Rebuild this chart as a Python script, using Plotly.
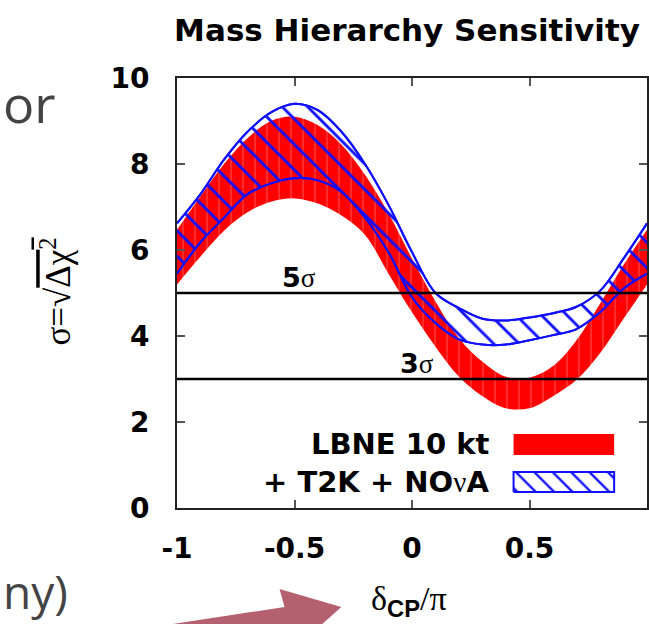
import plotly.graph_objects as go

# ---------------- data ----------------
delta_cp = [-1.0, -0.9, -0.8, -0.7, -0.6, -0.5, -0.4, -0.3, -0.2, -0.1, 0.0,
            0.1, 0.2, 0.3, 0.4, 0.5, 0.6, 0.7, 0.8, 0.9, 1.0]
lbne_upper = [6.47, 7.25, 8.0, 8.6, 9.0, 9.1, 8.9, 8.45, 7.75, 6.85, 5.8,
              4.8, 3.95, 3.4, 3.05, 3.03, 3.3, 3.9, 4.75, 5.65, 6.47]
lbne_lower = [5.2, 5.85, 6.45, 6.88, 7.12, 7.2, 7.08, 6.8, 6.35, 5.45, 4.55,
              3.75, 3.05, 2.6, 2.32, 2.32, 2.6, 2.98, 3.6, 4.4, 5.2]
comb_upper = [6.62, 7.3, 8.1, 8.75, 9.2, 9.4, 9.25, 8.75, 8.0, 7.05, 5.95,
              5.0, 4.65, 4.4, 4.36, 4.43, 4.53, 4.68, 5.05, 5.8, 6.62]
comb_lower = [5.45, 6.18, 6.75, 7.3, 7.55, 7.67, 7.62, 7.35, 6.75, 5.95, 4.9,
              4.3, 3.92, 3.8, 3.8, 3.9, 4.02, 4.16, 4.55, 5.1, 5.45]
sigma_levels = [5, 3]
sigma_labels = ["5", "3"]
sigma_label_x = [-0.48, 0.02]
x_ticks = [-1, -0.5, 0, 0.5, 1]
x_tick_text = ["-1", "-0.5", "0", "0.5", "1"]
y_ticks = [0, 2, 4, 6, 8, 10]
y_tick_text = ["0", "2", "4", "6", "8", "10"]
legend_names = ["LBNE 10 kt", "+ T2K + NO<span style='font-family:Liberation Serif;font-weight:normal'>ν</span>A"]

# ---------------- layout geometry (pixels) ----------------
W, H = 649, 624
L, R, T, B = 177, 649, 78, 508
PW, PH = R - L, B - T


def px(x):
    return (x - L) / PW


def py(y):
    return (B - y) / PH


RED = "#ff0000"
BLUE = "#1010ff"
SANS = "DejaVu Sans"
SERIF = "Liberation Serif"

fig = go.Figure()

# red band
fig.add_trace(go.Scatter(x=delta_cp, y=lbne_lower, mode="lines",
                         line=dict(width=0, shape="spline", smoothing=1.0),
                         hoverinfo="skip", showlegend=False))
fig.add_trace(go.Scatter(x=delta_cp, y=lbne_upper, mode="lines",
                         line=dict(width=0, shape="spline", smoothing=1.0),
                         fill="tonexty", fillcolor=RED,
                         fillpattern=dict(shape="|", fgcolor="white", bgcolor=RED,
                                          fgopacity=0.35, size=12, solidity=0.08),
                         name=legend_names[0], showlegend=False))
# blue hatched band
fig.add_trace(go.Scatter(x=delta_cp, y=comb_lower, mode="lines",
                         line=dict(width=2, color=BLUE, shape="spline", smoothing=1.0),
                         hoverinfo="skip", showlegend=False))
fig.add_trace(go.Scatter(x=delta_cp, y=comb_upper, mode="lines",
                         line=dict(width=2, color=BLUE, shape="spline", smoothing=1.0),
                         fill="tonexty", fillcolor="rgba(0,0,0,0)",
                         fillpattern=dict(shape="\\", fgcolor=BLUE, bgcolor="rgba(0,0,0,0)",
                                          fgopacity=1, size=18, solidity=0.16),
                         name=legend_names[1], showlegend=False))
# redraw blue outlines on top
for ys in (comb_lower, comb_upper):
    fig.add_trace(go.Scatter(x=delta_cp, y=ys, mode="lines",
                             line=dict(width=2, color=BLUE, shape="spline", smoothing=1.0),
                             hoverinfo="skip", showlegend=False))

# sigma lines
for lvl, lab, lx in zip(sigma_levels, sigma_labels, sigma_label_x):
    fig.add_trace(go.Scatter(x=[x_ticks[0], x_ticks[-1]], y=[lvl, lvl], mode="lines",
                             line=dict(color="black", width=2.5),
                             hoverinfo="skip", showlegend=False))
    fig.add_annotation(x=lx, y=lvl, xref="x", yref="y", yanchor="bottom", yshift=-2,
                       showarrow=False,
                       text=f"<b>{lab}</b><span style='font-family:{SERIF}'>σ</span>",
                       font=dict(family=SANS, size=27, color="black"))

# legend swatches on overlay axes (0..1 box)
sw_x = [px(515), px(616), px(616), px(515), px(515)]
fig.add_trace(go.Scatter(x=sw_x, y=[py(455), py(455), py(434), py(434), py(455)],
                         xaxis="x2", yaxis="y2", mode="lines", fill="toself",
                         fillcolor=RED, line=dict(width=0, color=RED),
                         hoverinfo="skip", showlegend=False))
fig.add_trace(go.Scatter(x=sw_x, y=[py(492), py(492), py(472), py(472), py(492)],
                         xaxis="x2", yaxis="y2", mode="lines", fill="toself",
                         fillcolor="rgba(0,0,0,0)",
                         fillpattern=dict(shape="\\", fgcolor=BLUE, bgcolor="white",
                                          fgopacity=1, size=13, solidity=0.18),
                         line=dict(width=2, color=BLUE),
                         hoverinfo="skip", showlegend=False))
for name, yc in zip(legend_names, [444, 482]):
    fig.add_annotation(x=px(492), y=py(yc), xref="paper", yref="paper",
                       xanchor="right", yanchor="middle", showarrow=False,
                       text=f"<b>{name}</b>",
                       font=dict(family=SANS, size=29, color="black"))

# axis titles
fig.add_annotation(x=px(410), y=py(601), xref="paper", yref="paper",
                   xanchor="center", yanchor="middle", showarrow=False,
                   text="δ<sub><span style='font-family:Liberation Sans;font-weight:bold'>CP</span></sub>/π",
                   font=dict(family=SERIF, size=34, color="black"))
fig.add_annotation(x=px(55), y=py(292), xref="paper", yref="paper",
                   xanchor="center", yanchor="middle", showarrow=False, textangle=-90,
                   text="σ=√<span style='text-decoration:overline'>Δχ<sup>2</sup></span>",
                   font=dict(family=SERIF, size=35, color="black"))

# slide fragments around the chart
fig.add_annotation(x=px(0), y=py(102), xref="paper", yref="paper",
                   xanchor="left", yanchor="middle", showarrow=False, text="or",
                   font=dict(family="Open Sans", size=52, color="#444444"))
fig.add_annotation(x=px(0), y=py(624), xref="paper", yref="paper",
                   xanchor="left", yanchor="bottom", showarrow=False, text="ny)",
                   font=dict(family="Open Sans", size=46, color="#444444"))

# arrow
arrow_px = [(342, 607), (280, 589), (285, 607), (120, 632), (124, 662), (290, 630), (296, 648)]
path = "M " + " L ".join(f"{px(a):.4f},{py(b):.4f}" for a, b in arrow_px) + " Z"
fig.add_shape(type="path", path=path, xref="paper", yref="paper",
              fillcolor="#b5606e", line=dict(width=0), layer="above")

axis_common = dict(showgrid=False, zeroline=False, showline=True, linecolor="#222222",
                   linewidth=2, mirror="ticks", ticks="inside", ticklen=8, tickwidth=1.5,
                   tickcolor="#555555",
                   tickfont=dict(family=SANS, size=28, color="black", weight="bold"))
fig.update_layout(
    width=W, height=H, margin=dict(l=L, r=W - R, t=T, b=H - B),
    paper_bgcolor="white", plot_bgcolor="white", showlegend=False,
    title=dict(text="<b>Mass Hierarchy Sensitivity</b>", x=px(408), xref="paper",
               y=1 - 30 / H, yref="container", xanchor="center", yanchor="middle",
               font=dict(family=SANS, size=31, color="black")),
    xaxis=dict(range=[-1, 1], tickvals=x_ticks, ticktext=x_tick_text,
               ticklabelstandoff=14, **axis_common),
    yaxis=dict(range=[0, 10], tickvals=y_ticks, ticktext=y_tick_text,
               ticklabelstandoff=20, **axis_common),
    xaxis2=dict(range=[0, 1], overlaying="x", visible=False),
    yaxis2=dict(range=[0, 1], overlaying="y", visible=False),
)

fig.write_html("out.html")
